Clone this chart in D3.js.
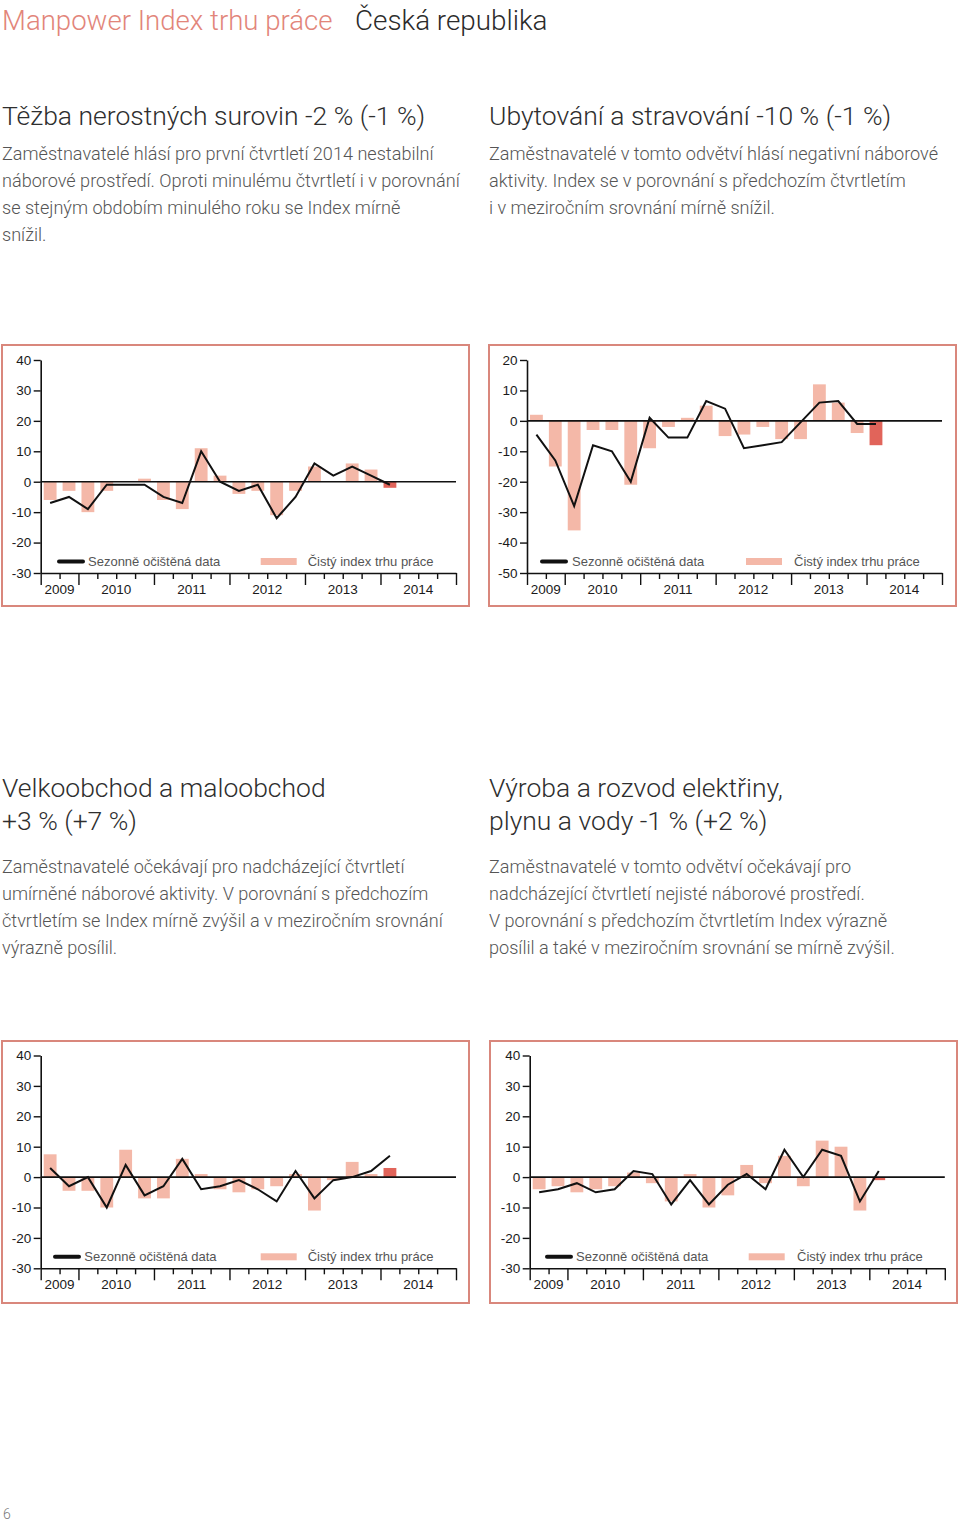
<!DOCTYPE html>
<html><head><meta charset="utf-8">
<script src="https://cdn.jsdelivr.net/npm/d3@7"></script>
<style>
body{margin:0;background:#fff;}
svg{display:block;}
</style></head><body>
<svg id="page" width="960" height="1524"></svg>
<script>
// ---------------- DATA ----------------
const quarters = ["2009Q3","2009Q4","2010Q1","2010Q2","2010Q3","2010Q4","2011Q1","2011Q2","2011Q3","2011Q4",
  "2012Q1","2012Q2","2012Q3","2012Q4","2013Q1","2013Q2","2013Q3","2013Q4","2014Q1"];
const axisSlots = quarters.concat(["2014Q2","2014Q3","2014Q4"]);
const years = ["2009","2010","2011","2012","2013","2014"];
const yearSlots = [2,4,4,4,4,4];
const legendLabels = ["Sezonně očištěná data","Čistý index trhu práce"];

const ticksA = [-30,-20,-10,0,10,20,30,40];
const ticksB = [-50,-40,-30,-20,-10,0,10,20];

const miningNet = [-6,-3,-10,-3,0,1,-6,-9,11,2,-4,-3,-11,-3,5,0,6,4,-2];
const miningSA  = [-7,-5,-9,-1,-1,-1,-5,-7,10,0,-3,-1,-12,-5,6,2,5,2,-1];
const hotelsNet = [2,-15,-36,-3,-3,-21,-9,-2,1,5,-5,-4.5,-2,-6,-6,12,6,-4,-8];
const hotelsSA  = [-4.5,-13,-28,-8,-10,-20,1,-5.5,-5.5,6.5,4,-9,-8,-7,-0.5,6,6.5,-1,-1];
const tradeNet  = [7.5,-4.5,-4.5,-10,9,-7,-7,6,1,-4,-5,-4,-3,1,-11,-1,5,1,3];
const tradeSA   = [3,-3,0,-10,4,-6,-3,6,-4,-3,-1,-4,-8,2,-7,-1,0,2,7];
const utilNet   = [-4,-3,-5,-4,-3,1.5,-2,-8,1,-10,-6,4,-2,7,-3,12,10,-11,-1];
const utilSA    = [-5,-4,-2,-5,-4,2,1,-9,-1,-9,-2.5,1,-4,9,0,9,7,-8,2];

const headerLeft = "Manpower Index trhu práce";
const headerRight = "Česká republika";
const sections = [
  {title:["Těžba nerostných surovin -2 % (-1 %)"],
   body:["Zaměstnavatelé hlásí pro první čtvrtletí 2014 nestabilní",
         "náborové prostředí. Oproti minulému čtvrtletí i v porovnání",
         "se stejným obdobím minulého roku se Index mírně",
         "snížil."]},
  {title:["Ubytování a stravování -10 % (-1 %)"],
   body:["Zaměstnavatelé v tomto odvětví hlásí negativní náborové",
         "aktivity. Index se v porovnání s předchozím čtvrtletím",
         "i v meziročním srovnání mírně snížil."]},
  {title:["Velkoobchod a maloobchod","+3 % (+7 %)"],
   body:["Zaměstnavatelé očekávají pro nadcházející čtvrtletí",
         "umírněné náborové aktivity. V porovnání s předchozím",
         "čtvrtletím se Index mírně zvýšil a v meziročním srovnání",
         "výrazně posílil."]},
  {title:["Výroba a rozvod elektřiny,","plynu a vody -1 % (+2 %)"],
   body:["Zaměstnavatelé v tomto odvětví očekávají pro",
         "nadcházející čtvrtletí nejisté náborové prostředí.",
         "V porovnání s předchozím čtvrtletím Index výrazně",
         "posílil a také v meziročním srovnání se mírně zvýšil."]}
];
const pageNumber = "6";

// ---------------- LAYOUT ----------------
const TEXT_FONT = "Roboto";
const svg = d3.select("#page");

svg.append("text").attr("x",2).attr("y",30).attr("font-family",TEXT_FONT).attr("font-weight",300)
  .attr("font-size",27.6).attr("fill","#e2857a").text(headerLeft);
svg.append("text").attr("x",355).attr("y",30).attr("font-family",TEXT_FONT).attr("font-weight",300)
  .attr("font-size",27.8).attr("fill","#2b2b2b").text(headerRight);

const secPos = [
  {x:2, titleY:125, bodyY:160},
  {x:489, titleY:125, bodyY:160},
  {x:2, titleY:797, bodyY:873},
  {x:489, titleY:797, bodyY:873}
];
sections.forEach((s,i)=>{
  const p = secPos[i];
  s.title.forEach((t,j)=>{
    svg.append("text").attr("x",p.x).attr("y",p.titleY + j*33)
      .attr("font-family",TEXT_FONT).attr("font-weight",300).attr("font-size",26.5)
      .attr("fill","#2e2e2e").text(t);
  });
  s.body.forEach((t,j)=>{
    svg.append("text").attr("x",p.x).attr("y",p.bodyY + j*27)
      .attr("font-family",TEXT_FONT).attr("font-weight",300).attr("font-size",18.1)
      .attr("fill","#555").text(t);
  });
});

svg.append("text").attr("x",3).attr("y",1519).attr("font-family",TEXT_FONT).attr("font-weight",300)
  .attr("font-size",14).attr("fill","#777").text(pageNumber);

// ---------------- CHARTS ----------------
const charts = [
  {net:miningNet, sa:miningSA, ticks:ticksA, frame:[2,345,467,261], x0:40.7, x1:456, yTop:360, yBot:573,
   leg:{line:59, t1:88, rect:260.7, t2:307.7}},
  {net:hotelsNet, sa:hotelsSA, ticks:ticksB, frame:[489,345,467,261], x0:527, x1:942, yTop:360, yBot:573,
   leg:{line:542, t1:572, rect:746, t2:794}},
  {net:tradeNet, sa:tradeSA, ticks:ticksA, frame:[2,1041,467,262], x0:40.7, x1:456, yTop:1055.5, yBot:1268.3,
   leg:{line:55, t1:84.3, rect:260.7, t2:307.7}},
  {net:utilNet, sa:utilSA, ticks:ticksA, frame:[490,1041,467,262], x0:529.7, x1:944.8, yTop:1055.5, yBot:1268.3,
   leg:{line:547, t1:576, rect:748.7, t2:797}}
];

const BAR = "#f4b8a8", BAR_LAST = "#e1645a", FRAME = "#d9877c";
const LABEL_FONT = "Liberation Sans, Arial, sans-serif";

charts.forEach(c=>{
  const g = svg.append("g");
  g.append("rect").attr("x",c.frame[0]).attr("y",c.frame[1]).attr("width",c.frame[2]).attr("height",c.frame[3])
    .attr("fill","none").attr("stroke",FRAME).attr("stroke-width",2);

  const y = d3.scaleLinear().domain([d3.min(c.ticks), d3.max(c.ticks)]).range([c.yBot, c.yTop]);
  const xb = d3.scaleBand().domain(axisSlots).range([c.x0, c.x1]).paddingInner(0.32).paddingOuter(0.16);
  const xi = d3.scaleLinear().domain([0, axisSlots.length]).range([c.x0, c.x1]);
  const cx = q => xb(q) + xb.bandwidth()/2;

  // bars
  g.selectAll("rect.bar").data(quarters.map((q,i)=>({q, v:c.net[i], last:i===quarters.length-1})))
    .join("rect").attr("class","bar")
    .attr("x",d=>xb(d.q)).attr("width",xb.bandwidth())
    .attr("y",d=>y(Math.max(0,d.v))).attr("height",d=>Math.abs(y(d.v)-y(0)))
    .attr("fill",d=>d.last?BAR_LAST:BAR);

  // zero line
  g.append("line").attr("x1",c.x0).attr("x2",c.x1).attr("y1",y(0)).attr("y2",y(0))
    .attr("stroke","#111").attr("stroke-width",1.6);

  // SA line
  g.append("path").datum(quarters.map((q,i)=>[cx(q), y(c.sa[i])]))
    .attr("d",d3.line()).attr("fill","none").attr("stroke","#111").attr("stroke-width",2).attr("stroke-linejoin","miter");

  // y axis
  const ya = g.append("g").attr("transform",`translate(${c.x0},0)`)
    .call(d3.axisLeft(y).tickValues(c.ticks).tickSize(7).tickSizeOuter(0).tickPadding(2.5).tickFormat(d=>String(d)));
  ya.select(".domain").attr("stroke","#111").attr("stroke-width",1.6);
  ya.selectAll(".tick line").attr("stroke","#111").attr("stroke-width",1.4);
  ya.selectAll(".tick text").attr("font-family",LABEL_FONT).attr("font-size",13.5).attr("fill","#1a1a1a");

  // x axis
  const boundaries = [0];
  yearSlots.forEach(n=>boundaries.push(boundaries[boundaries.length-1]+n));
  const xa = g.append("g").attr("transform",`translate(0,${c.yBot})`)
    .call(d3.axisBottom(xi).tickValues(d3.range(0, axisSlots.length+1)).tickSize(6).tickSizeOuter(0).tickFormat(""));
  xa.select(".domain").attr("stroke","#111").attr("stroke-width",1.6);
  xa.selectAll(".tick line").attr("stroke","#111").attr("stroke-width",1.4)
    .attr("y2",d=>boundaries.includes(d)?12:6);

  years.forEach((yr,i)=>{
    g.append("text").attr("x",(xi(boundaries[i])+xi(boundaries[i+1]))/2).attr("y",c.yBot+21)
      .attr("text-anchor","middle").attr("font-family",LABEL_FONT).attr("font-size",13.5).attr("fill","#1a1a1a").text(yr);
  });

  // legend
  const ly = c.yBot - 11.5;
  g.append("line").attr("x1",c.leg.line).attr("x2",c.leg.line+24).attr("y1",ly).attr("y2",ly)
    .attr("stroke","#111").attr("stroke-width",4).attr("stroke-linecap","round");
  g.append("text").attr("x",c.leg.t1).attr("y",ly+4.5).attr("font-family",LABEL_FONT).attr("font-size",13)
    .attr("fill","#555").text(legendLabels[0]);
  g.append("rect").attr("x",c.leg.rect).attr("y",ly-3.5).attr("width",36).attr("height",7).attr("fill",BAR);
  g.append("text").attr("x",c.leg.t2).attr("y",ly+4.5).attr("font-family",LABEL_FONT).attr("font-size",13)
    .attr("fill","#555").text(legendLabels[1]);
});
</script>
</body></html>
